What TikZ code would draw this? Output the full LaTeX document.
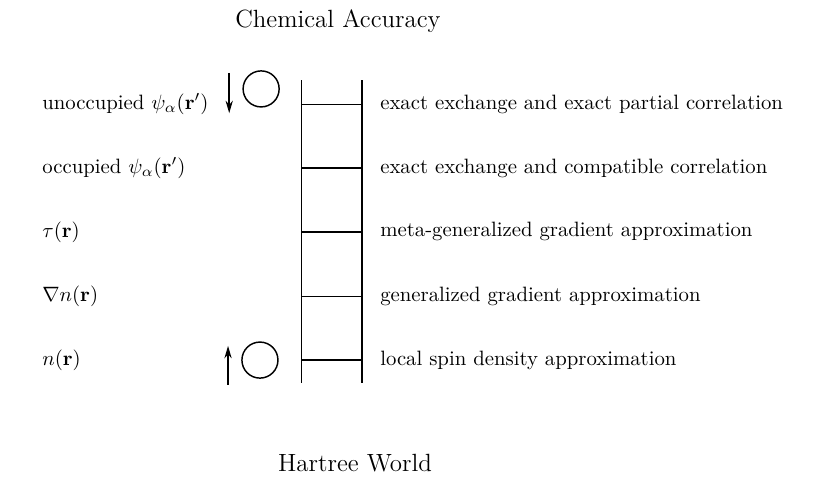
\documentclass[tikz,border=0pt]{standalone}
\usetikzlibrary{arrows.meta}
\tikzset{
    rail/.style={line width=0.7pt},
    rung label/.style={anchor=west, inner sep=0pt},
    ring/.style={circle, draw, line width=0.7pt, minimum size=0.61cm, inner sep=0pt},
    spin/.style={line width=0.7pt, -{Stealth[length=6pt, width=3.5pt]}}
}
\begin{document}
\begin{tikzpicture}
    \useasboundingbox (0, 0) rectangle (13.88, 8.245);

    % oben und unten
    \node[font=\large] (accuracy) at (5.72, 7.88) {Chemical Accuracy};
    \node[font=\large] (hartree) at (6.01, 0.41) {Hartree World};

    % Holme der Leiter
    \coordinate (lefttop) at (5.10, 6.89);
    \coordinate (leftbot) at (5.10, 1.76);
    \coordinate (righttop) at (6.13, 6.89);
    \coordinate (rightbot) at (6.13, 1.76);
    \draw[rail] (lefttop) -- (leftbot);
    \draw[rail] (righttop) -- (rightbot);

    % Sprossen mit Zutaten (links) und Namen (rechts)
    \foreach \y/\rung/\ingr/\name in {
        6.48/five/{unoccupied $\psi_\alpha(\mathbf{r}')$}/{exact exchange and exact partial correlation},
        5.40/four/{occupied $\psi_\alpha(\mathbf{r}')$}/{exact exchange and compatible correlation},
        4.32/three/{$\tau(\mathbf{r})$}/{meta-generalized gradient approximation},
        3.23/two/{$\nabla n(\mathbf{r})$}/{generalized gradient approximation},
        2.15/one/{$n(\mathbf{r})$}/{local spin density approximation}} {
        \coordinate (\rung-l) at (5.10, \y);
        \coordinate (\rung-r) at (6.13, \y);
        \draw[rail] (\rung-l) -- (\rung-r);
        \node[rung label] (\rung-name) at (6.43, \y) {\name};
        \node[rung label] (\rung-ingr) at (0.71, \y) {\ingr};
    }

    % Kreise und Pfeile
    \node[ring] (ringtop) at (4.42, 6.74) {};
    \node[ring] (ringbot) at (4.40, 2.15) {};
    \coordinate (downstart) at (3.88, 7.01);
    \coordinate (downend) at (3.88, 6.33);
    \draw[spin] (downstart) -- (downend);
    \coordinate (upstart) at (3.86, 1.73);
    \coordinate (upend) at (3.86, 2.39);
    \draw[spin] (upstart) -- (upend);
\end{tikzpicture}
\end{document}
